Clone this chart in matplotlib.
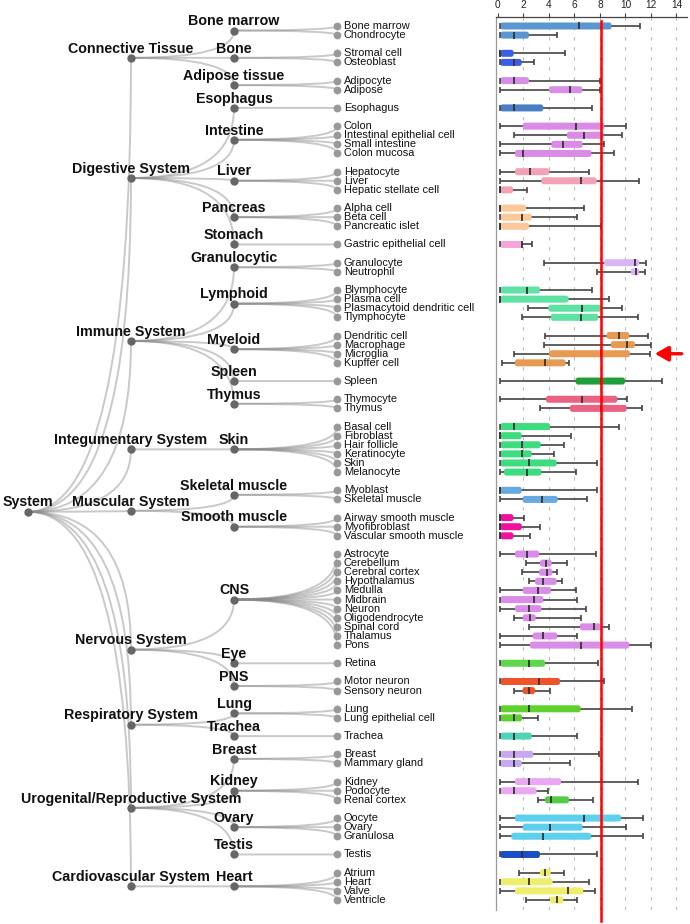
import numpy as np
import matplotlib
matplotlib.use("Agg")
import matplotlib.pyplot as plt
import matplotlib.transforms as mtransforms
from matplotlib.path import Path
from matplotlib.patches import PathPatch, FancyBboxPatch

plt.rcParams['font.family'] = ['Liberation Sans', 'DejaVu Sans']

# tree: system -> tissue -> cell
root = "System"
systems = ["Connective Tissue", "Digestive System", "Immune System",
           "Integumentary System", "Muscular System", "Nervous System",
           "Respiratory System", "Urogenital/Reproductive System",
           "Cardiovascular System"]
system_sizes = [3, 5, 5, 1, 2, 3, 2, 4, 1]
tissues = ["Bone marrow", "Bone", "Adipose tissue",
           "Esophagus", "Intestine", "Liver", "Pancreas", "Stomach",
           "Granulocytic", "Lymphoid", "Myeloid", "Spleen", "Thymus",
           "Skin",
           "Skeletal muscle", "Smooth muscle",
           "CNS", "Eye", "PNS",
           "Lung", "Trachea",
           "Breast", "Kidney", "Ovary", "Testis",
           "Heart"]
tissue_sizes = [2, 2, 2, 1, 4, 3, 3, 1, 2, 4, 4, 1, 2, 6, 2, 3, 11, 1, 2,
                2, 1, 2, 3, 3, 1, 4]
cells = ["Bone marrow", "Chondrocyte", "Stromal cell", "Osteoblast",
         "Adipocyte", "Adipose", "Esophagus", "Colon",
         "Intestinal epithelial cell", "Small intestine", "Colon mucosa",
         "Hepatocyte", "Liver", "Hepatic stellate cell", "Alpha cell",
         "Beta cell", "Pancreatic islet", "Gastric epithelial cell",
         "Granulocyte", "Neutrophil", "Blymphocyte", "Plasma cell",
         "Plasmacytoid dendritic cell", "Tlymphocyte", "Dendritic cell",
         "Macrophage", "Microglia", "Kupffer cell", "Spleen", "Thymocyte",
         "Thymus", "Basal cell", "Fibroblast", "Hair follicle",
         "Keratinocyte", "Skin", "Melanocyte", "Myoblast", "Skeletal muscle",
         "Airway smooth muscle", "Myofibroblast", "Vascular smooth muscle",
         "Astrocyte", "Cerebellum", "Cerebral cortex", "Hypothalamus",
         "Medulla", "Midbrain", "Neuron", "Oligodendrocyte", "Spinal cord",
         "Thalamus", "Pons", "Retina", "Motor neuron", "Sensory neuron",
         "Lung", "Lung epithelial cell", "Trachea", "Breast",
         "Mammary gland", "Kidney", "Podocyte", "Renal cortex", "Oocyte",
         "Ovary", "Granulosa", "Testis", "Atrium", "Heart", "Valve",
         "Ventricle"]

# box statistics per cell (whisker low, q1, median, q3, whisker high)
lo = [0.2, 0.2, 0.2, 0.2, 0.2, 0.2, 0.2, 0.2, 1.24, 0.2, 0.2,
      0.2, 0.2, 0.2, 0.2, 0.2, 0.2, 0.2, 3.61, 7.76, 0.2, 0.2,
      2.39, 1.9, 3.7, 3.61, 1.27, 0.35, 0.2, 0.2, 3.3, 0.2,
      0.2, 0.2, 0.2, 0.2, 0.2, 0.2, 0.2, 0.2, 0.2, 0.2,
      0.2, 2.24, 1.87, 2.47, 0.2, 0.2, 0.2, 1.3, 2.47, 0.2, 0.2,
      0.2, 0.2, 1.27, 0.2, 0.2, 0.2, 0.2, 0.2, 0.2, 0.2, 3.15,
      0.2, 0.2, 0.2, 0.2, 1.64, 0.2, 0.2, 2.21]
q1 = [0.2, 0.2, 0.2, 0.2, 0.2, 4.01, 0.2, 1.95, 5.41, 4.19, 1.35,
      1.35, 3.41, 0.2, 0.2, 0.2, 0.2, 0.2, 8.34, 10.43, 0.2, 0.2,
      3.96, 4.16, 8.52, 8.86, 4.01, 1.35, 6.1, 3.78, 5.65, 0.2,
      0.2, 0.2, 0.2, 0.2, 0.49, 0.2, 1.95, 0.2, 0.2, 0.2,
      1.35, 3.3, 3.23, 2.91, 1.95, 0.2, 1.35, 1.95, 6.44, 2.73, 2.52,
      0.2, 0.2, 1.95, 0.2, 0.2, 0.2, 0.2, 0.2, 1.35, 0.2, 3.7,
      1.35, 1.95, 1.06, 0.2, 3.3, 0.2, 1.35, 4.09]
med = [6.38, 1.3, 0.2, 1.3, 1.3, 5.65, 1.3, 6.1, 6.75, 5.13, 1.95,
       2.52, 6.49, 0.2, 0.2, 1.92, 0.2, 1.9, 10.74, 10.82, 2.26, 0.2,
       6.62, 6.54, 9.46, 10.09, 8.08, 3.7, 8.08, 6.57, 8.05, 1.3,
       0.2, 1.92, 1.92, 2.47, 2.26, 0.2, 3.49, 0.2, 0.2, 0.2,
       2.26, 3.75, 3.88, 3.56, 3.17, 2.86, 2.47, 2.52, 7.53, 3.56, 6.49,
       2.47, 3.25, 2.47, 2.47, 1.3, 1.3, 1.3, 1.3, 2.47, 1.3, 4.16,
       6.75, 4.09, 3.52, 1.9, 3.72, 2.47, 5.52, 4.61]
q3 = [8.91, 2.44, 1.24, 1.87, 2.44, 6.62, 3.56, 8.34, 8.26, 6.64, 7.33,
      4.04, 7.74, 1.19, 2.21, 2.65, 2.44, 1.9, 11.08, 11.08, 3.3, 5.54,
      8.13, 7.87, 10.3, 10.74, 10.35, 5.31, 9.96, 9.36, 10.09, 4.09,
      1.87, 3.36, 2.65, 4.61, 3.41, 1.87, 4.69, 1.22, 1.87, 1.22,
      3.23, 4.22, 4.29, 4.61, 4.16, 3.56, 3.41, 2.97, 8.06, 4.66, 10.3,
      3.7, 4.87, 2.91, 6.49, 1.9, 2.65, 2.78, 1.87, 4.95, 3.04, 5.57,
      9.65, 6.64, 7.3, 3.3, 4.14, 4.29, 6.69, 5.13]
hi = [11.13, 4.6, 5.26, 2.86, 8.0, 8.0, 7.35, 10.03, 9.77, 8.31, 9.1,
      7.17, 11.08, 2.26, 6.75, 6.23, 8.06, 2.7, 11.6, 11.52, 7.35, 8.73,
      9.77, 11.0, 11.78, 11.97, 11.92, 5.57, 12.83, 10.09, 11.3, 9.52,
      5.73, 5.21, 4.4, 7.8, 6.12, 7.8, 6.96, 2.08, 3.33, 2.52,
      7.66, 5.39, 4.61, 5.0, 6.1, 6.23, 6.91, 6.52, 8.73, 6.17, 12.0,
      7.82, 8.31, 4.09, 10.48, 3.17, 6.23, 7.95, 5.65, 10.95, 3.96, 7.48,
      11.34, 10.03, 11.34, 7.8, 5.21, 7.14, 7.61, 6.23]
colors = (["#5a96d0"] * 2 + ["#3d5ce8"] * 2 + ["#d590e6"] * 2 +
          ["#4a7ec4"] + ["#d98be6"] * 4 + ["#f3a2b6"] * 3 +
          ["#fcc89a"] * 3 + ["#f5a6d8"] + ["#d9b5f5"] * 2 +
          ["#5ee2a4"] * 4 + ["#e99a52"] * 4 + ["#1f9e3a"] +
          ["#ea6282"] * 2 + ["#3ddc7e"] * 6 + ["#66aadf"] * 2 +
          ["#f0129f"] * 3 + ["#da8de8"] * 11 + ["#5fd64c"] +
          ["#f0532b"] * 2 + ["#5ed12c"] * 2 + ["#4fd4b6"] +
          ["#c9a8ef"] * 2 + ["#eba8f2"] * 2 + ["#56cc46"] +
          ["#5dd0ef"] * 3 + ["#1a4fc8"] + ["#eeee6c"] * 4)
cutoff = 8.08
highlight = "Microglia"

# ---- layout (cluster style: gap of one slot between tissues) ----
cell_y = []
s = 0
for k, n in enumerate(tissue_sizes):
    if k > 0:
        s += 1
    for j in range(n):
        cell_y.append(s)
        s += 1
cell_y = np.array(cell_y, dtype=float)
cell_bounds = np.cumsum([0] + tissue_sizes)
tissue_y = np.array([cell_y[cell_bounds[i]:cell_bounds[i + 1]].mean()
                     for i in range(len(tissues))])
tissue_bounds = np.cumsum([0] + system_sizes)
system_y = np.array([tissue_y[tissue_bounds[i]:tissue_bounds[i + 1]].mean()
                     for i in range(len(systems))])
root_y = system_y.mean()

fig = plt.figure(figsize=(6.9, 9.24), dpi=100)
bottom = 1 - 910 / 924
height = (910 - 16.7) / 924
ylims = (97.1, -1.02)

ax_t = fig.add_axes([28 / 690, bottom, 309 / 690, height])
ax_t.set_xlim(0, 3)
ax_t.set_ylim(*ylims)
ax_t.axis('off')


def link(ax, x0, y0, x1, y1):
    verts = [(x0, y0), (x1, y0), (x1, y1)]
    codes = [Path.MOVETO, Path.CURVE3, Path.CURVE3]
    ax.add_patch(PathPatch(Path(verts, codes), fill=False, ec='#888888',
                           lw=1.4, alpha=0.45, zorder=1))


for i in range(len(systems)):
    link(ax_t, 0, root_y, 1, system_y[i])
for k in range(len(tissues)):
    sys_idx = np.searchsorted(tissue_bounds, k, side='right') - 1
    link(ax_t, 1, system_y[sys_idx], 2, tissue_y[k])
for c in range(len(cells)):
    t_idx = np.searchsorted(cell_bounds, c, side='right') - 1
    link(ax_t, 2, tissue_y[t_idx], 3, cell_y[c])

ax_t.plot([0], [root_y], 'o', color='#666666', ms=5, zorder=3, clip_on=False)
ax_t.plot(np.ones(len(systems)), system_y, 'o', color='#666666', ms=5,
          zorder=3)
ax_t.plot(np.full(len(tissues), 2), tissue_y, 'o', color='#666666', ms=5,
          zorder=3)
ax_t.plot(np.full(len(cells), 3), cell_y, 'o', color='#999999', ms=4.6,
          zorder=3, clip_on=False)

up = mtransforms.offset_copy(ax_t.transData, fig, x=0, y=3.8, units='points')
right = mtransforms.offset_copy(ax_t.transData, fig, x=5, y=0, units='points')
bold = dict(fontsize=10.3, fontweight='bold', ha='center', va='baseline',
            transform=up, zorder=5, color='#111111')
ax_t.text(0, root_y, root, **bold)
for name, y in zip(systems, system_y):
    ax_t.text(1, y, name, **bold)
for name, y in zip(tissues, tissue_y):
    ax_t.text(2, y, name, **bold)
for name, y in zip(cells, cell_y):
    ax_t.text(3, y, name, fontsize=7.9, ha='left', va='center',
              transform=right, color='#111111', zorder=5)

# ---- box plot panel ----
ax_b = fig.add_axes([496 / 690, bottom, (686.7 - 496) / 690, height])
ax_b.set_xlim(-0.14, 14.8)
ax_b.set_ylim(*ylims)
for v in range(2, 15, 2):
    ax_b.axvline(v, color='#bbbbbb', lw=0.8, ls=(0, (3, 6)), zorder=0)

aspect = (190.7 / 14.94) / (893.3 / 98.12)
box_h = 0.77
for i in range(len(cells)):
    y = cell_y[i]
    ax_b.plot([lo[i], hi[i]], [y, y], color='#444444', lw=1.2, zorder=1,
              solid_capstyle='butt')
    ax_b.add_patch(FancyBboxPatch((q1[i], y - box_h / 2), q3[i] - q1[i],
                                  box_h,
                                  boxstyle="round,pad=0,rounding_size=0.19",
                                  mutation_aspect=aspect, fc=colors[i],
                                  ec='none', zorder=2))
    ax_b.vlines([lo[i], hi[i]], y - 0.33, y + 0.33, color='#444444',
                lw=1.2, zorder=3)
    ax_b.vlines(med[i], y - box_h / 2, y + box_h / 2, color='#333333',
                lw=1.3, zorder=3)

ax_b.axvline(cutoff, ymin=-0.0123, ymax=0.995, color='#ff0000', lw=1.8,
             zorder=4, clip_on=False)

hy = cell_y[cells.index(highlight)]
ax_b.annotate('', xy=(12.3, hy), xytext=(14.4, hy),
              arrowprops=dict(arrowstyle='-|>,head_length=0.8,head_width=0.45',
                              color='#ff0000', lw=2.4, mutation_scale=10,
                              shrinkA=0, shrinkB=0))

ax_b.xaxis.tick_top()
ax_b.set_xticks(range(0, 15, 2))
ax_b.tick_params(axis='x', length=3, width=0.8, color='#444444',
                 labelsize=7.3, pad=1.5, labelcolor='#222222')
ax_b.set_yticks([])
ax_b.spines['bottom'].set_visible(False)
ax_b.spines['right'].set_visible(False)
ax_b.spines['top'].set_color('#444444')
ax_b.spines['top'].set_linewidth(0.9)
ax_b.spines['left'].set_color('#999999')
ax_b.spines['left'].set_linewidth(0.9)
ax_b.patch.set_alpha(0)

fig.savefig('out.png', dpi=100)
